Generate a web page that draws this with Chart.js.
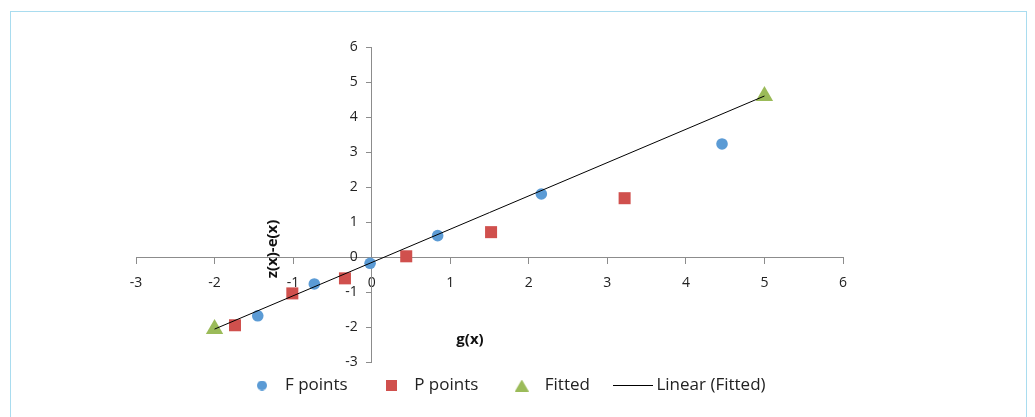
<!DOCTYPE html>
<html>
<head>
<meta charset="utf-8">
<script src="https://cdn.jsdelivr.net/npm/chart.js@4/dist/chart.umd.min.js"></script>
<style>
  html, body { margin: 0; padding: 0; background: #fff; }
  #wrap { position: relative; width: 1035px; height: 417px; overflow: hidden; }
  #frame { position: absolute; left: 10px; top: 11px; width: 1017px; height: 420px; border: 1.5px solid #a9dcef; box-sizing: border-box; }
  #c { position: absolute; left: 0; top: 0; }
</style>
</head>
<body>
<div id="wrap">
  <div id="frame"></div>
  <canvas id="c" width="1035" height="417"></canvas>
</div>
<script>
// ---- data ----
const seriesNames = ['F points', 'P points', 'Fitted', 'Linear (Fitted)'];
const fPointsX = [-1.45, -0.73, -0.02, 0.84, 2.16, 4.46];
const fPointsY = [-1.68, -0.77, -0.18, 0.61, 1.80, 3.23];
const pPointsX = [-1.74, -1.01, -0.34, 0.44, 1.52, 3.22];
const pPointsY = [-1.95, -1.04, -0.61, 0.02, 0.71, 1.68];
const fittedX = [-2, 5];
const fittedY = [-2.06, 4.6];
const xTicks = [-3, -2, -1, 0, 1, 2, 3, 4, 5, 6];
const yTicks = [-3, -2, -1, 0, 1, 2, 3, 4, 5, 6];
const xTitle = 'g(x)';
const yTitle = 'z(x)-e(x)';

const COLORS = ['#5b9bd5', '#d0504d', '#9bbb59', '#000000'];
const toPts = (xs, ys) => xs.map((x, i) => ({ x: x, y: ys[i] }));

// legend swatches
function swatch(w, h, draw) {
  const c = document.createElement('canvas');
  c.width = w; c.height = h;
  draw(c.getContext('2d'), w, h);
  return c;
}
const legendMarks = [
  swatch(10, 10, (g) => { g.fillStyle = COLORS[0]; g.beginPath(); g.arc(5, 5, 5, 0, Math.PI * 2); g.fill(); }),
  swatch(11, 11, (g) => { g.fillStyle = COLORS[1]; g.fillRect(0, 0, 11, 11); }),
  swatch(14, 12, (g) => { g.fillStyle = COLORS[2]; g.beginPath(); g.moveTo(7, 0); g.lineTo(14, 12); g.lineTo(0, 12); g.closePath(); g.fill(); }),
  swatch(40, 3, (g) => { g.strokeStyle = COLORS[3]; g.lineWidth = 1; g.beginPath(); g.moveTo(0, 1.5); g.lineTo(40, 1.5); g.stroke(); })
];

const FONT = '"Open Sans", "Liberation Sans", sans-serif';

const axisTitles = {
  id: 'axisTitles',
  afterDraw(chart) {
    const ctx = chart.ctx;
    ctx.save();
    ctx.fillStyle = '#111';
    ctx.font = 'bold 15px ' + FONT;
    ctx.textAlign = 'center';
    ctx.textBaseline = 'middle';
    ctx.fillText(xTitle, 470, 340);
    ctx.translate(273, 249);
    ctx.rotate(-Math.PI / 2);
    ctx.fillText(yTitle, 0, 0);
    ctx.restore();
  }
};

// move the legend row and the y tick labels (axis crossing at 0 keeps labels on the axis line)
const adjust = {
  id: 'adjust',
  afterLayout(chart) {
    if (chart.legend) {
      chart.legend.left += 17;
      chart.legend.right += 17;
      chart.legend.top -= 14;
      chart.legend.bottom -= 14;
    }
  },
  beforeDraw(chart) {
    const ys = chart.scales.y;
    const items = ys.getLabelItems(chart.chartArea);
    if (!ys._shifted) {
      items.forEach(it => { it.options.translation[0] -= 14; });
      ys._shifted = true;
    }
  },
  afterUpdate(chart) { if (chart.scales.y) chart.scales.y._shifted = false; }
};

new Chart(document.getElementById('c'), {
  type: 'scatter',
  data: {
    datasets: [
      { label: seriesNames[0], data: toPts(fPointsX, fPointsY), pointStyle: 'circle', pointRadius: 5.8,
        backgroundColor: COLORS[0], borderColor: COLORS[0], borderWidth: 0, order: 2 },
      { label: seriesNames[1], data: toPts(pPointsX, pPointsY), pointStyle: 'rect', pointRadius: 8.5,
        backgroundColor: COLORS[1], borderColor: COLORS[1], borderWidth: 0, order: 2 },
      { label: seriesNames[2], data: toPts(fittedX, fittedY), pointStyle: 'triangle', pointRadius: 10,
        backgroundColor: COLORS[2], borderColor: COLORS[2], borderWidth: 0, order: 2 },
      { label: seriesNames[3], type: 'line', data: toPts(fittedX, fittedY), showLine: true,
        borderColor: COLORS[3], backgroundColor: COLORS[3], borderWidth: 1, pointRadius: 0, pointHoverRadius: 0,
        fill: false, tension: 0, order: 1 }
    ]
  },
  options: {
    responsive: false,
    animation: false,
    layout: { padding: { left: 136, right: 192, top: 47, bottom: -1 } },
    scales: {
      x: {
        type: 'linear',
        position: { y: 0 },
        min: -3, max: 6,
        afterBuildTicks: (s) => { s.ticks = xTicks.map(v => ({ value: v })); },
        grid: { drawOnChartArea: false, drawTicks: true, tickLength: 6, color: '#8c8c8c', tickColor: '#8c8c8c' },
        border: { display: true, color: '#8c8c8c', width: 1 },
        ticks: { padding: 12, color: '#222', font: { family: FONT, size: 14 }, maxRotation: 0 }
      },
      y: {
        type: 'linear',
        position: { x: 0 },
        min: -3, max: 6,
        afterBuildTicks: (s) => { s.ticks = yTicks.map(v => ({ value: v })); },
        grid: { drawOnChartArea: false, drawTicks: true, tickLength: 5, color: '#8c8c8c', tickColor: '#8c8c8c' },
        border: { display: true, color: '#8c8c8c', width: 1 },
        ticks: { padding: 8, color: '#222', font: { family: FONT, size: 14 } }
      }
    },
    plugins: {
      legend: {
        position: 'bottom',
        labels: {
          usePointStyle: true,
          pointStyleWidth: 29,
          boxHeight: 12,
          padding: 29,
          color: '#222',
          font: { family: FONT, size: 17 },
          sort: (a, b) => a.datasetIndex - b.datasetIndex,
          generateLabels: (chart) => {
            const items = Chart.defaults.plugins.legend.labels.generateLabels(chart);
            items.forEach(it => { it.pointStyle = legendMarks[it.datasetIndex]; it.lineWidth = 0; });
            return items;
          }
        }
      },
      tooltip: { enabled: false },
      title: { display: false }
    }
  },
  plugins: [axisTitles, adjust]
});
</script>
</body>
</html>
